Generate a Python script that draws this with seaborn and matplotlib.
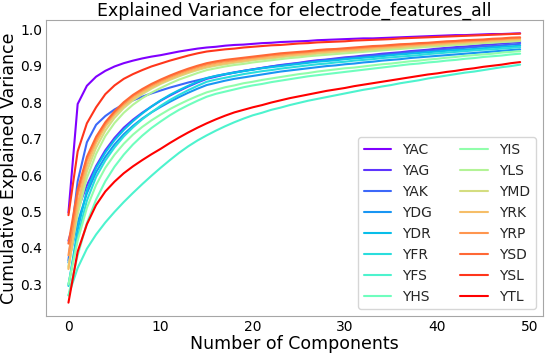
import numpy as np
import pandas as pd
import matplotlib
matplotlib.use("Agg")
import matplotlib.pyplot as plt
import seaborn as sns

components = list(range(50))

electrodes = ["YAC", "YAG", "YAK", "YDG", "YDR", "YFR", "YFS", "YHS",
              "YIS", "YLS", "YMD", "YRK", "YRP", "YSD", "YSL", "YTL"]

YAC = [0.497, 0.795, 0.845, 0.870, 0.886, 0.898, 0.907, 0.914, 0.920, 0.925,
       0.929, 0.934, 0.939, 0.943, 0.947, 0.950, 0.952, 0.955, 0.957, 0.958,
       0.960, 0.962, 0.963, 0.965, 0.966, 0.967, 0.968, 0.970, 0.971, 0.972,
       0.973, 0.974, 0.975, 0.975, 0.976, 0.977, 0.978, 0.979, 0.980, 0.981,
       0.982, 0.983, 0.984, 0.984, 0.985, 0.986, 0.987, 0.987, 0.988, 0.989]
YAG = [0.420, 0.505, 0.572, 0.625, 0.668, 0.702, 0.730, 0.752, 0.771, 0.788,
       0.804, 0.818, 0.831, 0.843, 0.854, 0.864, 0.870, 0.876, 0.881, 0.886,
       0.890, 0.894, 0.898, 0.902, 0.905, 0.908, 0.912, 0.915, 0.917, 0.920,
       0.923, 0.925, 0.928, 0.930, 0.933, 0.935, 0.937, 0.940, 0.942, 0.944,
       0.947, 0.949, 0.951, 0.953, 0.955, 0.957, 0.959, 0.961, 0.963, 0.965]
YAK = [0.366, 0.583, 0.690, 0.738, 0.762, 0.780, 0.794, 0.805, 0.815, 0.824,
       0.832, 0.840, 0.847, 0.854, 0.860, 0.866, 0.872, 0.877, 0.882, 0.886,
       0.890, 0.894, 0.898, 0.901, 0.904, 0.907, 0.910, 0.913, 0.916, 0.918,
       0.921, 0.923, 0.925, 0.928, 0.930, 0.932, 0.934, 0.937, 0.939, 0.941,
       0.943, 0.945, 0.947, 0.949, 0.951, 0.953, 0.954, 0.956, 0.958, 0.960]
YDG = [0.360, 0.470, 0.550, 0.608, 0.650, 0.684, 0.712, 0.735, 0.755, 0.772,
       0.787, 0.801, 0.814, 0.826, 0.837, 0.847, 0.853, 0.859, 0.864, 0.868,
       0.872, 0.876, 0.880, 0.884, 0.887, 0.890, 0.893, 0.896, 0.899, 0.901,
       0.904, 0.906, 0.909, 0.911, 0.914, 0.916, 0.918, 0.921, 0.923, 0.925,
       0.927, 0.929, 0.931, 0.933, 0.935, 0.937, 0.939, 0.941, 0.943, 0.945]
YDR = [0.296, 0.450, 0.558, 0.620, 0.662, 0.696, 0.724, 0.748, 0.769, 0.788,
       0.805, 0.820, 0.833, 0.845, 0.856, 0.866, 0.872, 0.877, 0.881, 0.885,
       0.889, 0.893, 0.896, 0.899, 0.902, 0.905, 0.908, 0.911, 0.913, 0.915,
       0.918, 0.920, 0.922, 0.924, 0.926, 0.929, 0.931, 0.933, 0.935, 0.937,
       0.939, 0.941, 0.943, 0.944, 0.946, 0.948, 0.950, 0.952, 0.953, 0.955]
YFR = [0.300, 0.430, 0.530, 0.595, 0.640, 0.676, 0.706, 0.731, 0.753, 0.772,
       0.790, 0.806, 0.820, 0.833, 0.845, 0.856, 0.862, 0.867, 0.872, 0.877,
       0.881, 0.885, 0.888, 0.892, 0.895, 0.898, 0.901, 0.904, 0.906, 0.909,
       0.911, 0.914, 0.916, 0.918, 0.921, 0.923, 0.925, 0.927, 0.929, 0.932,
       0.934, 0.936, 0.938, 0.940, 0.942, 0.944, 0.945, 0.947, 0.949, 0.951]
YFS = [0.270, 0.345, 0.398, 0.437, 0.470, 0.499, 0.526, 0.551, 0.575, 0.598,
       0.620, 0.641, 0.661, 0.679, 0.695, 0.709, 0.722, 0.734, 0.745, 0.755,
       0.764, 0.771, 0.779, 0.785, 0.792, 0.798, 0.804, 0.809, 0.814, 0.819,
       0.824, 0.829, 0.834, 0.838, 0.843, 0.847, 0.852, 0.856, 0.860, 0.865,
       0.869, 0.873, 0.877, 0.881, 0.884, 0.888, 0.892, 0.896, 0.899, 0.903]
YHS = [0.270, 0.380, 0.468, 0.533, 0.583, 0.623, 0.656, 0.684, 0.708, 0.729,
       0.747, 0.764, 0.779, 0.792, 0.804, 0.815, 0.823, 0.829, 0.835, 0.841,
       0.846, 0.850, 0.855, 0.859, 0.863, 0.867, 0.871, 0.874, 0.877, 0.880,
       0.883, 0.886, 0.889, 0.892, 0.895, 0.898, 0.901, 0.904, 0.906, 0.909,
       0.911, 0.914, 0.916, 0.919, 0.921, 0.924, 0.926, 0.928, 0.931, 0.933]
YIS = [0.300, 0.420, 0.510, 0.573, 0.620, 0.656, 0.686, 0.711, 0.732, 0.750,
       0.766, 0.781, 0.794, 0.806, 0.817, 0.827, 0.834, 0.841, 0.846, 0.852,
       0.856, 0.861, 0.865, 0.869, 0.873, 0.877, 0.880, 0.884, 0.887, 0.890,
       0.893, 0.895, 0.898, 0.901, 0.904, 0.906, 0.909, 0.912, 0.914, 0.917,
       0.919, 0.922, 0.924, 0.927, 0.929, 0.931, 0.933, 0.936, 0.938, 0.940]
YLS = [0.350, 0.492, 0.592, 0.658, 0.707, 0.743, 0.771, 0.793, 0.811, 0.826,
       0.839, 0.851, 0.862, 0.871, 0.880, 0.888, 0.893, 0.898, 0.902, 0.905,
       0.909, 0.912, 0.915, 0.918, 0.921, 0.923, 0.926, 0.928, 0.930, 0.932,
       0.934, 0.936, 0.938, 0.940, 0.942, 0.944, 0.946, 0.948, 0.950, 0.952,
       0.953, 0.955, 0.957, 0.958, 0.960, 0.962, 0.963, 0.965, 0.966, 0.968]
YMD = [0.345, 0.505, 0.610, 0.675, 0.722, 0.757, 0.784, 0.805, 0.822, 0.837,
       0.850, 0.861, 0.871, 0.880, 0.888, 0.895, 0.900, 0.904, 0.908, 0.911,
       0.915, 0.918, 0.920, 0.923, 0.926, 0.928, 0.930, 0.933, 0.935, 0.937,
       0.939, 0.940, 0.942, 0.944, 0.946, 0.948, 0.949, 0.951, 0.953, 0.955,
       0.956, 0.958, 0.960, 0.961, 0.963, 0.964, 0.966, 0.967, 0.969, 0.970]
YRK = [0.342, 0.520, 0.625, 0.688, 0.733, 0.765, 0.790, 0.810, 0.827, 0.841,
       0.853, 0.864, 0.874, 0.883, 0.891, 0.898, 0.903, 0.907, 0.911, 0.914,
       0.918, 0.921, 0.923, 0.926, 0.929, 0.931, 0.933, 0.936, 0.938, 0.940,
       0.942, 0.943, 0.945, 0.947, 0.949, 0.951, 0.952, 0.954, 0.956, 0.958,
       0.959, 0.961, 0.963, 0.964, 0.966, 0.967, 0.969, 0.970, 0.972, 0.973]
YRP = [0.380, 0.545, 0.640, 0.697, 0.740, 0.771, 0.796, 0.816, 0.832, 0.846,
       0.858, 0.869, 0.879, 0.888, 0.896, 0.903, 0.908, 0.912, 0.915, 0.919,
       0.922, 0.925, 0.928, 0.930, 0.933, 0.935, 0.937, 0.940, 0.942, 0.944,
       0.945, 0.947, 0.949, 0.951, 0.953, 0.954, 0.956, 0.958, 0.959, 0.961,
       0.963, 0.964, 0.966, 0.967, 0.969, 0.970, 0.972, 0.973, 0.975, 0.976]
YSD = [0.412, 0.560, 0.650, 0.705, 0.745, 0.775, 0.800, 0.820, 0.836, 0.850,
       0.862, 0.873, 0.883, 0.892, 0.900, 0.907, 0.912, 0.916, 0.919, 0.922,
       0.925, 0.928, 0.931, 0.934, 0.936, 0.938, 0.940, 0.943, 0.945, 0.946,
       0.948, 0.950, 0.952, 0.954, 0.955, 0.957, 0.959, 0.960, 0.962, 0.963,
       0.965, 0.967, 0.968, 0.970, 0.971, 0.972, 0.974, 0.975, 0.977, 0.978]
YSL = [0.490, 0.665, 0.742, 0.786, 0.822, 0.846, 0.864, 0.877, 0.888, 0.898,
       0.906, 0.914, 0.921, 0.928, 0.934, 0.939, 0.942, 0.945, 0.947, 0.950,
       0.952, 0.954, 0.956, 0.957, 0.959, 0.961, 0.962, 0.964, 0.965, 0.966,
       0.967, 0.969, 0.970, 0.971, 0.972, 0.973, 0.975, 0.976, 0.977, 0.978,
       0.979, 0.980, 0.981, 0.982, 0.983, 0.984, 0.985, 0.986, 0.987, 0.988]
YTL = [0.250, 0.390, 0.465, 0.518, 0.555, 0.582, 0.605, 0.624, 0.641, 0.657,
       0.672, 0.688, 0.703, 0.717, 0.730, 0.742, 0.753, 0.763, 0.772, 0.779,
       0.786, 0.792, 0.799, 0.805, 0.811, 0.816, 0.821, 0.826, 0.831, 0.835,
       0.839, 0.844, 0.848, 0.852, 0.856, 0.860, 0.864, 0.868, 0.872, 0.876,
       0.879, 0.883, 0.886, 0.890, 0.893, 0.897, 0.900, 0.903, 0.907, 0.910]

series = [YAC, YAG, YAK, YDG, YDR, YFR, YFS, YHS,
          YIS, YLS, YMD, YRK, YRP, YSD, YSL, YTL]

rows = []
for name, vals in zip(electrodes, series):
    for c, v in zip(components, vals):
        rows.append({"electrode": name, "component": c, "variance": v})
df = pd.DataFrame(rows)

sns.set_style("whitegrid", {"axes.grid": False, "axes.edgecolor": ".65"})
plt.rcParams['font.family'] = ['DejaVu Sans']

colors = list(plt.cm.rainbow(np.linspace(0, 1, len(electrodes))))

fig, ax = plt.subplots(figsize=(5.46, 3.54), dpi=100)
sns.lineplot(data=df, x="component", y="variance", hue="electrode",
             hue_order=electrodes, palette=colors, linewidth=1.5, ax=ax)

ax.set_title("Explained Variance for electrode_features_all", fontsize=12.5,
             color="black", pad=3)
ax.set_xlabel("Number of Components", fontsize=12.5, color="black", labelpad=1)
ax.set_ylabel("Cumulative Explained Variance", fontsize=12.5, color="black", labelpad=2)
ax.tick_params(labelsize=10, colors="black", length=0, pad=2.5)
ax.set_xticks([0, 10, 20, 30, 40, 50])
ax.set_yticks([0.3, 0.4, 0.5, 0.6, 0.7, 0.8, 0.9, 1.0])

handles, labels = ax.get_legend_handles_labels()
ax.legend(handles, labels, loc="lower right", ncol=2, fontsize=10, frameon=True)

fig.subplots_adjust(left=0.084, right=0.994, bottom=0.107, top=0.944)
fig.savefig("out.png", dpi=100)
